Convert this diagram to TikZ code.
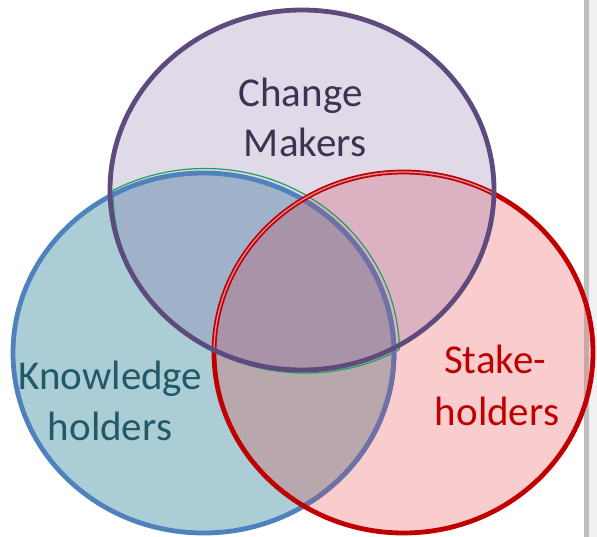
\documentclass[tikz,border=0pt]{standalone}
\usepackage{fontspec}
\setmainfont{Carlito}
\definecolor{pfill}{HTML}{E0D9E7}
\definecolor{bfill}{HTML}{ABCDD6}
\definecolor{rfill}{HTML}{F9CDCD}
\definecolor{bpfill}{HTML}{A0B2C9}
\definecolor{rpfill}{HTML}{DCB2C2}
\definecolor{brfill}{HTML}{B8A7AD}
\definecolor{allfill}{HTML}{A993A8}
\definecolor{pline}{HTML}{5E4A7C}
\definecolor{bline}{HTML}{4F81BD}
\definecolor{bline2}{HTML}{6F70A3}
\definecolor{rline}{HTML}{C00000}
\definecolor{rmid}{HTML}{D98C9C}
\definecolor{gline}{HTML}{1AA060}
\definecolor{ctext}{HTML}{3F3151}
\definecolor{ktext}{HTML}{215968}
\definecolor{stext}{HTML}{C00000}
\definecolor{bar}{HTML}{BFBFBF}
\definecolor{barr}{HTML}{C9A7A7}
\definecolor{edge}{HTML}{F0F0F0}
\newcommand{\ellP}{(302,190) ellipse [x radius=192pt, y radius=180pt]}
\newcommand{\ellB}{(203.5,353) ellipse [x radius=190.5pt, y radius=180pt]}
\newcommand{\ellR}{(403.5,352.5) ellipse [x radius=189.5pt, y radius=180.5pt]}
\tikzset{
  lbl/.style={font=\fontsize{41}{50}\selectfont, inner sep=0pt, anchor=base},
  ring/.style={line width=4.8pt}
}
\begin{document}
\begin{tikzpicture}[x=1pt,y=-1pt]
\useasboundingbox (0,0) rectangle (597,537);
\fill[white] (0,0) rectangle (597,537);
% right window edge
\fill[edge] (589,0) rectangle (597,537);
\fill[bar] (584,0) rectangle (589,537);
% single fills
\fill[bfill] \ellB;
\fill[rfill] \ellR;
\fill[pfill] \ellP;
% bar tinted inside red
\begin{scope}
  \clip \ellR;
  \fill[barr] (584,0) rectangle (589,537);
  \fill[rfill!80!edge] (589,0) rectangle (597,537);
\end{scope}
% pair fills
\begin{scope}\clip \ellB; \fill[bpfill] \ellP; \end{scope}
\begin{scope}\clip \ellR; \fill[rpfill] \ellP; \end{scope}
\begin{scope}\clip \ellB; \fill[brfill] \ellR; \end{scope}
\begin{scope}\clip \ellB; \clip \ellR; \fill[allfill] \ellP; \end{scope}
% thin green outline of the blue/purple overlap
\begin{scope}
  \clip (305,193) ellipse [x radius=192pt, y radius=180pt];
  \draw[gline, line width=1.2pt] (205,352.5) ellipse [x radius=194.5pt, y radius=184pt];
\end{scope}
\begin{scope}
  \clip (205,352.5) ellipse [x radius=194.5pt, y radius=184pt];
  \draw[gline, line width=1.2pt] (305,193) ellipse [x radius=192pt, y radius=180pt];
\end{scope}
% outlines
\draw[ring, bline] \ellB;
\begin{scope}\clip \ellR; \draw[ring, bline2] \ellB; \end{scope}
\draw[ring, rline] \ellR;
\begin{scope}\clip \ellP; \draw[rmid, line width=1.3pt] \ellR; \end{scope}
\draw[ring, pline] \ellP;
% labels
\node[lbl, text=ctext] (cm1) at (300.5,107) {Change};
\node[lbl, text=ctext] (cm2) at (305,157) {Makers};
\node[lbl, text=ktext] (kh1) at (110.5,389.5) {Knowledge};
\node[lbl, text=ktext] (kh2) at (110,440) {holders};
\node[lbl, text=stext] (sh1) at (495,373.5) {Stake-};
\node[lbl, text=stext] (sh2) at (497,425) {holders};
\end{tikzpicture}
\end{document}
